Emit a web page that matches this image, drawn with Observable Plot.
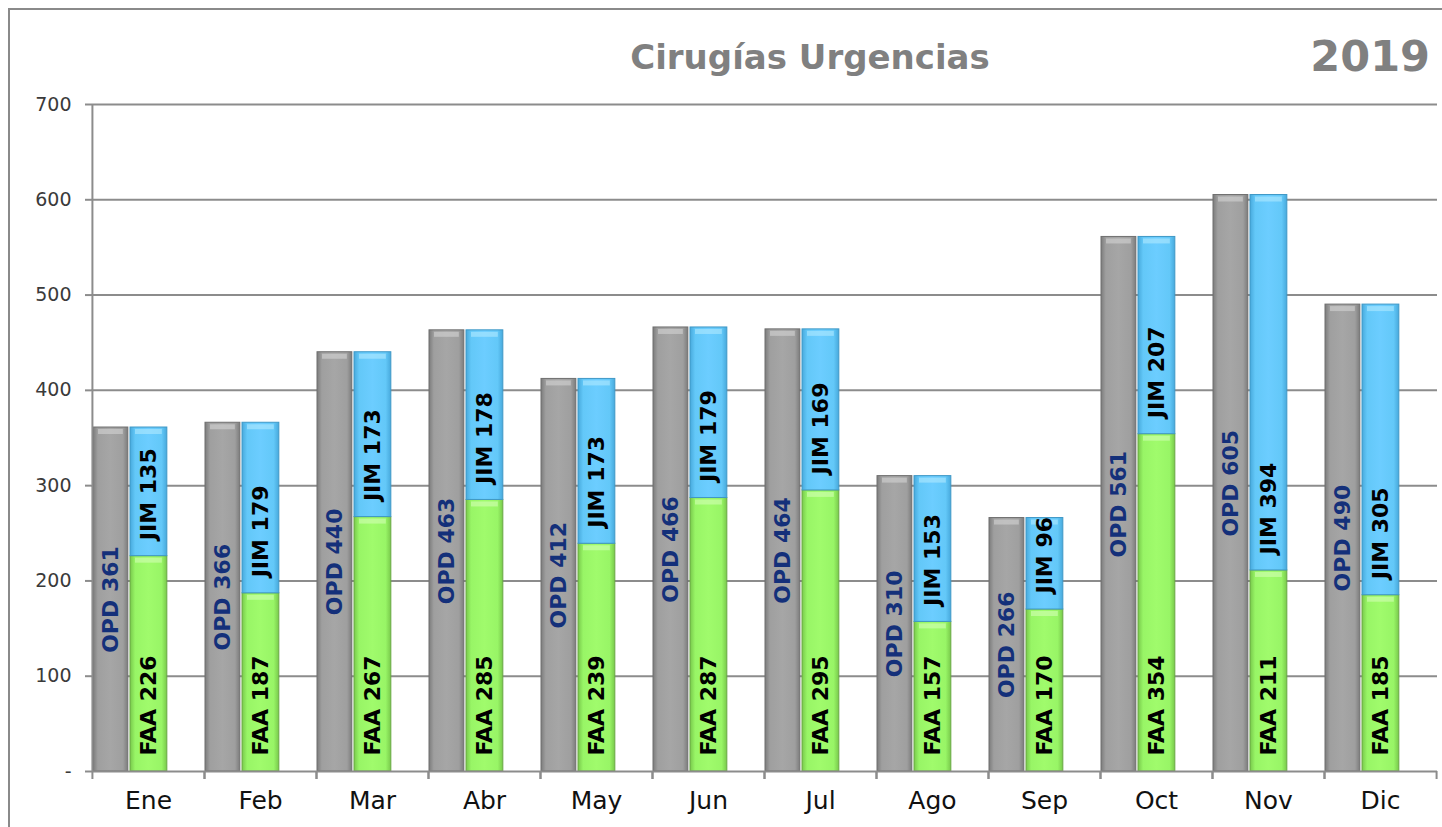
<!DOCTYPE html>
<html>
<head>
<meta charset="utf-8">
<script src="https://cdn.jsdelivr.net/npm/d3@7"></script>
<script src="https://cdn.jsdelivr.net/npm/@observablehq/plot@0.6"></script>
<style>
  html, body { margin: 0; padding: 0; background: #fff; overflow: hidden; }
  #wrap { position: relative; width: 1442px; height: 827px; overflow: hidden; }
  #frame { position: absolute; left: 8px; top: 8px; width: 1600px; height: 1000px;
           border-left: 2.5px solid #8a8a8a; border-top: 2.5px solid #8a8a8a; }
  #chart { position: absolute; left: 0; top: 0; }
  #title { position: absolute; left: 0; width: 1620px; top: 40px; text-align: center;
           font-family: "DejaVu Sans", sans-serif; font-weight: bold; font-size: 34px;
           line-height: 1; color: #808080; }
  #year { position: absolute; right: 12px; top: 35px; font-family: "DejaVu Sans", sans-serif;
          font-weight: bold; font-size: 43px; line-height: 1; color: #808080; }
</style>
</head>
<body>
<div id="wrap">
  <div id="frame"></div>
  <div id="chart"></div>
  <div id="title">Cirugías Urgencias</div>
  <div id="year">2019</div>
</div>
<script>
// ---- data ----
const months = ["Ene","Feb","Mar","Abr","May","Jun","Jul","Ago","Sep","Oct","Nov","Dic"];
const opd = [361, 366, 440, 463, 412, 466, 464, 310, 266, 561, 605, 490];
const faa = [226, 187, 267, 285, 239, 287, 295, 157, 170, 354, 211, 185];
const jim = [135, 179, 173, 178, 173, 179, 169, 153, 96, 207, 394, 305];
const yTicks = [0, 100, 200, 300, 400, 500, 600, 700];

const rows = months.map((m, i) => ({month: m, opd: opd[i], faa: faa[i], jim: jim[i]}));

// ---- layout ----
const W = 1442, H = 827, ML = 91, MR = 5, MT = 104, MB = 56;
const bw = (W - ML - MR) / months.length;
const grayL = 1, grayR = 36, stkL = 38, stkR = 75;
const grayIn = {insetLeft: grayL, insetRight: bw - grayR};
const stkIn = {insetLeft: stkL, insetRight: bw - stkR};
const grayDx = (grayL + grayR) / 2 - bw / 2;
const stkDx = (stkL + stkR) / 2 - bw / 2;
const gridColor = "#8c8c8c";

const plot = Plot.plot({
  width: W, height: H,
  marginLeft: ML, marginRight: MR, marginTop: MT, marginBottom: MB,
  style: {fontFamily: "DejaVu Sans, sans-serif", background: "transparent", overflow: "visible"},
  x: {type: "band", domain: months, paddingInner: 0, paddingOuter: 0, axis: null, label: null},
  y: {domain: [0, 700], axis: null, label: null},
  marks: [
    Plot.ruleY(yTicks.filter(d => d > 0), {stroke: gridColor, strokeWidth: 2}),
    // bars
    Plot.barY(rows, {x: "month", y1: () => 0, y2: "opd", fill: "url(#gGray)", stroke: "#6f6f6f", strokeWidth: 1, ...grayIn}),
    Plot.barY(rows, {x: "month", y1: () => 0, y2: "faa", fill: "url(#gGreen)", stroke: "#6aa845", strokeWidth: 1, ...stkIn}),
    Plot.barY(rows, {x: "month", y1: "faa", y2: d => d.faa + d.jim, fill: "url(#gBlue)", stroke: "#3f98c6", strokeWidth: 1, ...stkIn}),
    // top bevel highlights
    Plot.tickY(rows, {x: "month", y: "opd", dy: 4, stroke: "#d4d4d4", strokeWidth: 5, strokeOpacity: 0.6,
      insetLeft: grayL + 5, insetRight: bw - grayR + 5}),
    Plot.tickY(rows, {x: "month", y: d => d.faa + d.jim, dy: 4, stroke: "#b0eaff", strokeWidth: 5, strokeOpacity: 0.6,
      insetLeft: stkL + 5, insetRight: bw - stkR + 5}),
    Plot.tickY(rows, {x: "month", y: "faa", dy: 4, stroke: "#d2ffb4", strokeWidth: 5, strokeOpacity: 0.6,
      insetLeft: stkL + 5, insetRight: bw - stkR + 5}),
    // axes lines
    Plot.ruleY([0], {stroke: gridColor, strokeWidth: 2}),
    Plot.ruleX([months[0]], {dx: -bw / 2, stroke: gridColor, strokeWidth: 2}),
    Plot.axisY({ticks: yTicks, tickSize: 6, tickPadding: 14, tickFormat: d => d === 0 ? "-" : d, label: null,
      fontSize: 19, stroke: gridColor, strokeWidth: 2, fill: "#3a3a3a"}),
    Plot.axisX({tickSize: 8, dx: -bw / 2, tickFormat: () => "", label: null, stroke: gridColor, strokeWidth: 2}),
    Plot.axisX({tickSize: 8, dx: bw / 2, tickFormat: () => "", label: null, stroke: gridColor, strokeWidth: 2}),
    Plot.axisX({tickSize: 0, tickPadding: 20, fontSize: 25, fill: "#111", label: null}),
    // labels
    Plot.text(rows, {x: "month", y: d => d.opd / 2, text: d => "OPD " + d.opd, rotate: -90, dx: grayDx,
      fill: "#14307a", fontWeight: "bold", fontSize: 22, textAnchor: "middle", lineAnchor: "middle"}),
    Plot.text(rows, {x: "month", y: () => 0, text: d => "FAA " + d.faa, rotate: -90, dx: stkDx, dy: -16,
      fill: "#000", fontWeight: "bold", fontSize: 22, textAnchor: "start", lineAnchor: "middle"}),
    Plot.text(rows, {x: "month", y: "faa", text: d => "JIM " + d.jim, rotate: -90, dx: stkDx, dy: -16,
      fill: "#000", fontWeight: "bold", fontSize: 22, textAnchor: "start", lineAnchor: "middle"})
  ]
});

// gradients for the bevelled look
const svg = d3.select(plot);
const defs = svg.insert("defs", ":first-child");
function grad(id, edge, mid, center) {
  const g = defs.append("linearGradient").attr("id", id).attr("x1", 0).attr("x2", 1).attr("y1", 0).attr("y2", 0);
  [[0, edge], [0.14, mid], [0.5, center], [0.86, mid], [1, edge]].forEach(([o, c]) =>
    g.append("stop").attr("offset", o).attr("stop-color", c));
}
grad("gGray", "#7c7c7c", "#9f9f9f", "#a6a6a6");
grad("gBlue", "#47a9dc", "#63c8f8", "#6ccdff");
grad("gGreen", "#78c94b", "#98f566", "#a0fb6c");

document.getElementById("chart").appendChild(plot);
</script>
</body>
</html>
